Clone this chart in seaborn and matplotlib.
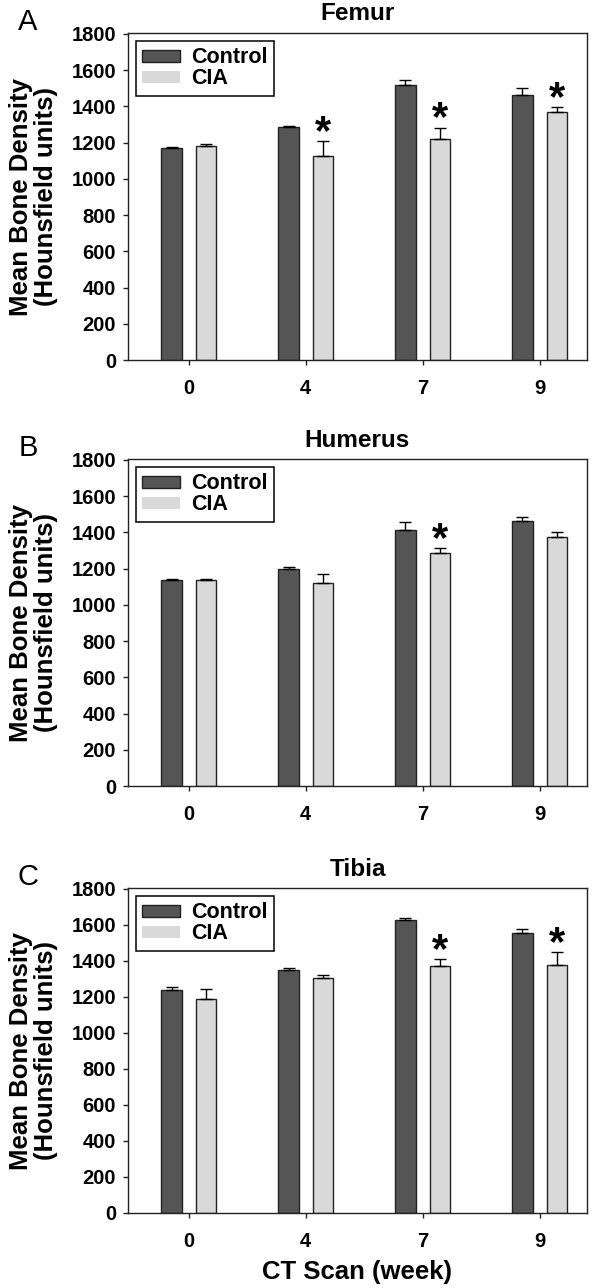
import numpy as np
import pandas as pd
import matplotlib
matplotlib.use("Agg")
import matplotlib.pyplot as plt
import seaborn as sns

weeks = ["0", "4", "7", "9"]
groups = ["Control", "CIA"]
panels = ["Femur", "Humerus", "Tibia"]
letters = ["A", "B", "C"]

femur_control = [1170, 1285, 1518, 1465]
femur_cia = [1181, 1128, 1218, 1369]
femur_control_err = [5, 9, 30, 39]
femur_cia_err = [11, 80, 65, 27]
femur_sig = [False, True, True, True]

humerus_control = [1135, 1196, 1411, 1462]
humerus_cia = [1135, 1120, 1286, 1372]
humerus_control_err = [5, 15, 46, 22]
humerus_cia_err = [5, 52, 26, 31]
humerus_sig = [False, False, True, False]

tibia_control = [1241, 1350, 1626, 1554]
tibia_cia = [1189, 1306, 1370, 1376]
tibia_control_err = [13, 9, 15, 22]
tibia_cia_err = [57, 17, 41, 72]
tibia_sig = [False, False, True, True]

yticks = [0, 200, 400, 600, 800, 1000, 1200, 1400, 1600, 1800]

data = [
    (femur_control, femur_cia, femur_control_err, femur_cia_err, femur_sig),
    (humerus_control, humerus_cia, humerus_control_err, humerus_cia_err, humerus_sig),
    (tibia_control, tibia_cia, tibia_control_err, tibia_cia_err, tibia_sig),
]

sns.set_theme(style="ticks")
plt.rcParams["font.family"] = ["Liberation Sans", "DejaVu Sans"]
plt.rcParams["text.color"] = "black"
plt.rcParams["xtick.color"] = "black"
plt.rcParams["ytick.color"] = "black"
plt.rcParams["axes.labelcolor"] = "black"

fig = plt.figure(figsize=(6.0, 12.88), dpi=100)
W, H = 600, 1288
# axes boxes in pixels (left, top, right, bottom)
boxes = [(128, 33, 587, 360), (128, 459, 587, 786), (128, 888, 587, 1213)]
palette = {"Control": "#555555", "CIA": "#d9d9d9"}

for i, (ctrl, cia, ctrl_err, cia_err, sig) in enumerate(data):
    l, t, r, b = boxes[i]
    ax = fig.add_axes([l / W, 1 - b / H, (r - l) / W, (b - t) / H])
    df = pd.DataFrame({
        "week": weeks * 2,
        "group": ["Control"] * 4 + ["CIA"] * 4,
        "value": list(ctrl) + list(cia),
    })
    sns.barplot(data=df, x="week", y="value", hue="group", order=weeks,
                hue_order=groups, palette=palette, width=0.59, gap=0.4,
                errorbar=None, edgecolor="#222222", linewidth=1.0, ax=ax,
                saturation=1)
    errs = [ctrl_err, cia_err]
    bar_conts = list(ax.containers)
    for ci, cont in enumerate(bar_conts):
        xs = [p.get_x() + p.get_width() / 2 for p in cont.patches]
        hs = [p.get_height() for p in cont.patches]
        ax.errorbar(xs, hs, yerr=[np.zeros(len(hs)), errs[ci]], fmt="none",
                    ecolor="black", elinewidth=1.0, capsize=4, capthick=1.0,
                    zorder=1)
        if ci == 1:
            for x, h, e, s in zip(xs, hs, errs[ci], sig):
                if s:
                    ax.text(x, h + e - 65, "*", ha="center", va="bottom",
                            fontsize=30, fontweight="bold", color="black")
    ax.set_ylim(0, 1805)
    ax.set_xlim(-0.52, 3.405)
    ax.set_yticks(yticks)
    ax.set_yticklabels([str(v) for v in yticks], fontsize=14.5, fontweight="bold")
    ax.set_xticks(range(4))
    ax.set_xticklabels(weeks, fontsize=14.5, fontweight="bold")
    ax.tick_params(axis="both", direction="out", length=3.5, width=1, pad=5,
                   color="#222222")
    ax.tick_params(axis="x", pad=10)
    for sp in ax.spines.values():
        sp.set_visible(True)
        sp.set_linewidth(1.0)
        sp.set_color("#222222")
    ax.set_ylabel("Mean Bone Density\n(Hounsfield units)", fontsize=18.5,
                  fontweight="bold", linespacing=1.05, labelpad=10)
    if i == 2:
        ax.set_xlabel("CT Scan (week)", fontsize=18.5, fontweight="bold",
                      labelpad=7)
    else:
        ax.set_xlabel("")
    ax.set_title(panels[i], fontsize=17.5, fontweight="bold", pad=9)
    handles = [bar_conts[0].patches[0], bar_conts[1].patches[0]]
    leg = ax.legend(handles, groups, loc="upper left", frameon=True,
                    fancybox=False, edgecolor="black", framealpha=1,
                    prop={"weight": "bold", "size": 15.5}, handlelength=1.75,
                    handleheight=0.45, labelspacing=0.0, borderpad=0.32,
                    handletextpad=0.5, borderaxespad=0.35)
    leg.get_frame().set_linewidth(1.1)
    leg.legend_handles[1].set_edgecolor("none")
    fig.text(28 / W, 1 - (t - 11) / H, letters[i], fontsize=21,
             ha="center", va="center")

fig.savefig("out.png", dpi=100)
